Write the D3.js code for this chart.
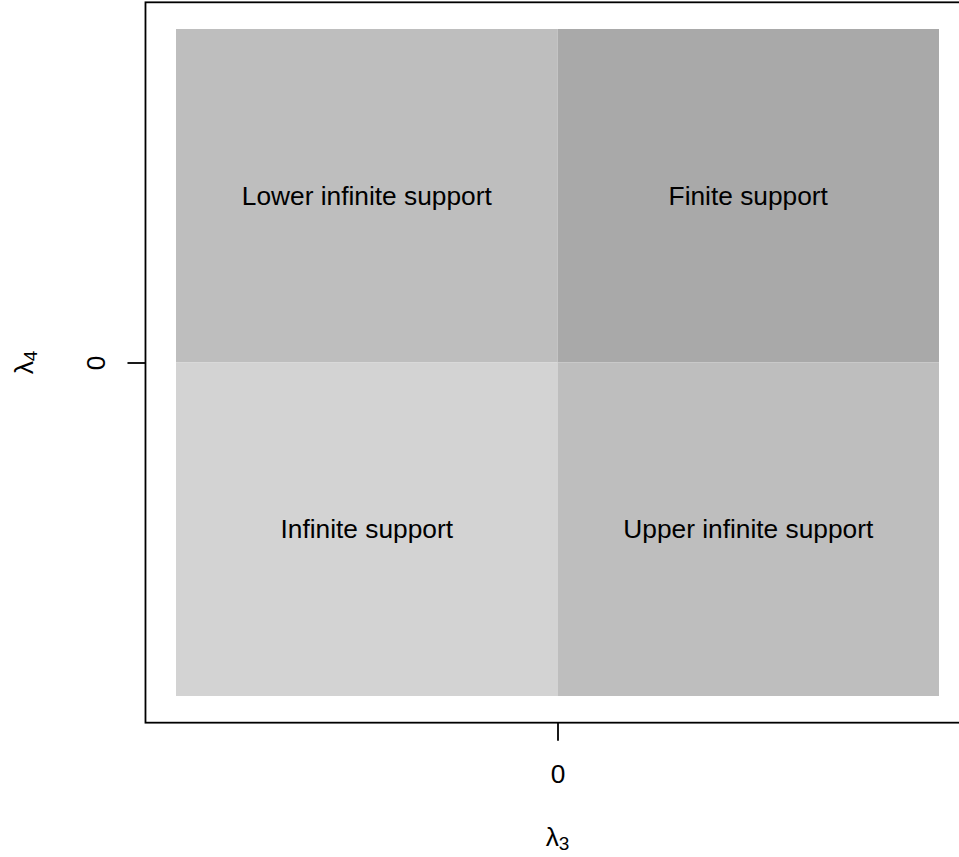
<!DOCTYPE html>
<html>
<head>
<meta charset="utf-8">
<script src="https://cdn.jsdelivr.net/npm/d3@7"></script>
<style>
  html, body { margin: 0; padding: 0; background: #fff; }
  svg { display: block; font-family: "Liberation Sans", Arial, Helvetica, sans-serif; }
</style>
</head>
<body>
<svg id="chart" width="959" height="857"></svg>
<script>
// Support regions of the generalized lambda distribution by sign of λ3 and λ4
const regionLabels = ["Lower infinite support", "Finite support", "Infinite support", "Upper infinite support"];
const regionX0 = [-1, 0, -1, 0];
const regionX1 = [0, 1, 0, 1];
const regionY0 = [0, 0, -1, -1];
const regionY1 = [1, 1, 0, 0];
const regionFill = ["#bebebe", "#a9a9a9", "#d3d3d3", "#bebebe"];
const xTicks = [0];
const yTicks = [0];
const xLimits = [-1.08, 1.08];
const yLimits = [-1.08, 1.08];

const FS = 26.3;
const svg = d3.select("#chart");
const x = d3.scaleLinear().domain([-1, 1]).range([176, 939]);
const y = d3.scaleLinear().domain([-1, 1]).range([696, 29]);

const regions = regionLabels.map((label, i) => ({
  label, x0: regionX0[i], x1: regionX1[i], y0: regionY0[i], y1: regionY1[i], fill: regionFill[i]
}));

// filled quadrants
svg.append("g").selectAll("rect")
  .data(regions)
  .join("rect")
  .attr("x", d => x(d.x0))
  .attr("y", d => y(d.y1))
  .attr("width", d => x(d.x1) - x(d.x0))
  .attr("height", d => y(d.y0) - y(d.y1))
  .attr("fill", d => d.fill);

// region names
svg.append("g").selectAll("text")
  .data(regions)
  .join("text")
  .attr("x", d => x((d.x0 + d.x1) / 2))
  .attr("y", d => y((d.y0 + d.y1) / 2))
  .attr("text-anchor", "middle")
  .attr("dominant-baseline", "central")
  .attr("font-size", FS)
  .attr("fill", "#000")
  .text(d => d.label);

// plot frame
svg.append("rect")
  .attr("x", x(xLimits[0]))
  .attr("y", y(yLimits[1]))
  .attr("width", x(xLimits[1]) - x(xLimits[0]))
  .attr("height", y(yLimits[0]) - y(yLimits[1]))
  .attr("fill", "none")
  .attr("stroke", "#000")
  .attr("stroke-width", 1.8);

// bottom axis
const xAxis = d3.axisBottom(x).tickValues(xTicks).tickSize(18).tickPadding(24).tickFormat(d3.format("d"));
const gx = svg.append("g").attr("transform", `translate(0,${y(yLimits[0])})`).call(xAxis);
gx.select(".domain").remove();
gx.selectAll(".tick line").attr("stroke", "#000").attr("stroke-width", 1.8);
gx.selectAll(".tick text").attr("font-size", FS).attr("font-family", "Liberation Sans, Arial, sans-serif").attr("fill", "#000");

// left axis, labels rotated as in base graphics
const yAxis = d3.axisLeft(y).tickValues(yTicks).tickSize(18).tickFormat(d3.format("d"));
const gy = svg.append("g").attr("transform", `translate(${x(xLimits[0])},0)`).call(yAxis);
gy.select(".domain").remove();
gy.selectAll(".tick line").attr("stroke", "#000").attr("stroke-width", 1.8);
gy.selectAll(".tick text")
  .attr("x", null).attr("dy", null)
  .attr("font-size", FS).attr("font-family", "Liberation Sans, Arial, sans-serif").attr("fill", "#000")
  .attr("text-anchor", "middle")
  .attr("dominant-baseline", "central")
  .attr("transform", "translate(-49,0) rotate(-90)");

// axis titles
const xTitle = svg.append("text")
  .attr("x", x(0)).attr("y", 837)
  .attr("text-anchor", "middle").attr("dominant-baseline", "central")
  .attr("font-size", FS).attr("fill", "#000");
xTitle.append("tspan").text("λ");
xTitle.append("tspan").attr("font-size", 19).attr("dy", 6).text("3");

const yTitle = svg.append("text")
  .attr("transform", `translate(24,${y(0)}) rotate(-90)`)
  .attr("text-anchor", "middle").attr("dominant-baseline", "central")
  .attr("font-size", FS).attr("fill", "#000");
yTitle.append("tspan").text("λ");
yTitle.append("tspan").attr("font-size", 19).attr("dy", 6).text("4");
</script>
</body>
</html>
